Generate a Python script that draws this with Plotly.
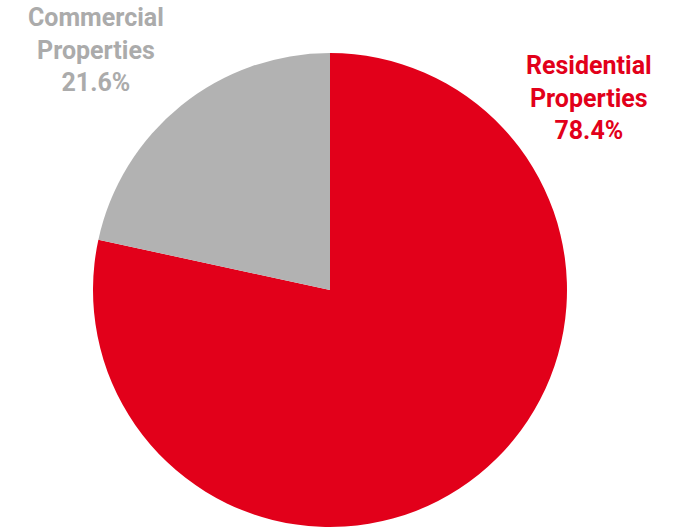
import plotly.graph_objects as go

labels = ["Residential Properties", "Commercial Properties"]
values = [78.4, 21.6]
colors = ["#E2001A", "#B2B2B2"]
text_colors = ["#E2001A", "#ABABAB"]

W, H = 687, 528
cx, cy, r = 330, 290, 237

fig = go.Figure()
fig.add_trace(go.Pie(
    labels=labels,
    values=values,
    sort=False,
    direction="clockwise",
    rotation=0,
    marker=dict(colors=colors, line=dict(width=0)),
    textinfo="none",
    hoverinfo="label+percent",
    showlegend=False,
    domain=dict(x=[(cx - r) / W, (cx + r) / W], y=[1 - (cy + r) / H, 1 - (cy - r) / H]),
))

label_pos = [(589, 98), (96, 50)]
for name, v, col, (x, y) in zip(labels, values, text_colors, label_pos):
    first, second = name.split(" ")
    fig.add_annotation(
        x=x / W, y=1 - y / H, xref="paper", yref="paper",
        text=f"{first}<br>{second}<br>{v:.1f}%",
        showarrow=False, align="center",
        font=dict(family="Roboto", size=25, color=col, weight="bold"),
        xanchor="center", yanchor="middle",
    )

fig.update_layout(
    width=W, height=H,
    margin=dict(l=0, r=0, t=0, b=0),
    paper_bgcolor="white", plot_bgcolor="white",
)
fig.write_html("out.html")
